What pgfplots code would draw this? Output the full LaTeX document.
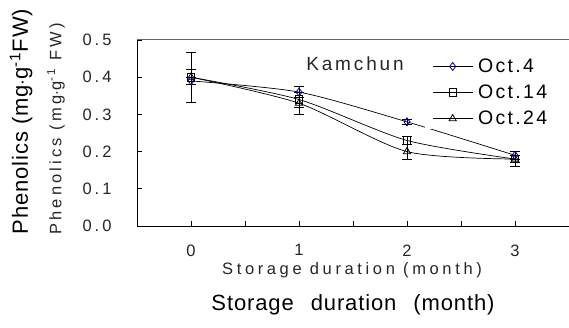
\documentclass[border=0pt]{standalone}
\usepackage{fontspec}
\setmainfont{Liberation Sans}
\newfontfamily\tickf[LetterSpace=18]{Liberation Sans}
\newfontfamily\legf[LetterSpace=12]{Liberation Sans}
\newfontfamily\kamf[LetterSpace=15]{Liberation Sans}
\newfontfamily\xlabf[LetterSpace=22]{Liberation Sans}
\newfontfamily\ylabf[LetterSpace=19]{Liberation Sans}
\newfontfamily\outf[LetterSpace=4]{Liberation Sans}
\usepackage{pgfplots}
\pgfplotsset{compat=1.18}
\begin{document}
\begin{tikzpicture}[x=1pt,y=1pt]
\useasboundingbox (0,0) rectangle (569,-328);
\begin{axis}[
  at={(137pt,-226pt)}, anchor=south west,
  width=432pt, height=186pt, scale only axis,
  xmin=-0.5, xmax=3.5, ymin=0, ymax=0.5,
  axis x line*=bottom, axis y line*=left,
  axis line style={black, line width=0.8pt, -},
  xtick={0,0.5,1,1.5,2,2.5,3}, xticklabels={0,,1,,2,,3},
  ytick={0,0.1,0.2,0.3,0.4,0.5},
  yticklabel style={xshift=-22pt, /pgf/number format/fixed, /pgf/number format/fixed zerofill, /pgf/number format/precision=1},
  /pgf/number format/assume math mode=true,
  tick align=inside, major tick length=5pt,
  every tick/.style={black, line width=0.6pt},
  tick label style={font=\tickf\fontsize{16.5}{16.5}\selectfont, text=black!85},
  xticklabel style={yshift=-15pt},
  legend style={at={(0.667,0.519)}, anchor=south west, draw=none, fill=white,
    font=\legf\fontsize{19.5}{19.5}\selectfont, row sep=7pt, inner xsep=7pt, inner ysep=1pt},
  legend cell align=left,
  legend image code/.code={\draw[mark repeat=2,mark phase=2,#1] plot coordinates {(0pt,0pt) (20pt,0pt) (40pt,0pt)};},
]
\addplot+[black, line width=0.7pt, smooth, tension=0.45, mark=diamond, mark size=4pt,
  mark options={draw=blue!60!black, fill=white, solid, line width=0.8pt},
  error bars/.cd, y dir=both, y explicit,
  error bar style={black, line width=0.8pt},
  error mark options={rotate=90, mark size=5pt, black, line width=0.8pt}]
  coordinates {(0,0.39) +- (0,0.01) (1,0.36) +- (0,0.015) (2,0.28) +- (0,0.007) (3,0.19) +- (0,0.01)};
\addlegendentry{\hspace{3pt}Oct.4}
\addplot+[black, line width=0.7pt, smooth, tension=0.45, mark=square, mark size=3.8pt,
  mark options={draw=black, fill=white, solid, line width=0.8pt},
  error bars/.cd, y dir=both, y explicit,
  error bar style={black, line width=0.8pt},
  error mark options={rotate=90, mark size=5pt, black, line width=0.8pt}]
  coordinates {(0,0.40) +- (0,0.02) (1,0.34) +- (0,0.02) (2,0.23) +- (0,0.01) (3,0.18) +- (0,0.01)};
\addlegendentry{\hspace{3pt}Oct.14}
\addplot+[black, line width=0.7pt, smooth, tension=0.45, mark=triangle, mark size=4.2pt,
  mark options={draw=black, fill=white, solid, line width=0.8pt},
  error bars/.cd, y dir=both, y explicit,
  error bar style={black, line width=0.8pt},
  error mark options={rotate=90, mark size=5pt, black, line width=0.8pt}]
  coordinates {(0,0.40) +- (0,0.068) (1,0.33) +- (0,0.03) (2,0.20) +- (0,0.02) (3,0.18) +- (0,0.02)};
\addlegendentry{\hspace{3pt}Oct.24}
\end{axis}
\draw[black!60, line width=1pt] (137,-40) -- (569,-40);
\node[font=\kamf\fontsize{19}{19}\selectfont, text=black!85] at (355,-63.5) {Kamchun};
\node[rotate=90, font=\outf\fontsize{22}{22}\selectfont] at (21,-121.5) {Phenolics (mg$\cdot$g\textsuperscript{-1}FW)};
\node[rotate=90, font=\ylabf\fontsize{16.5}{16.5}\selectfont, text=black!85] at (56,-129) {Phenolics (mg$\cdot$g\textsuperscript{-1} FW)};
\node[font=\xlabf\fontsize{16.5}{16.5}\selectfont, text=black!85] at (352,-270) {Storage duration (month)};
\node[font=\outf\fontsize{22}{22}\selectfont] at (353,-305) {Storage\hspace{10pt} duration\hspace{10pt} (month)};
\end{tikzpicture}
\end{document}
